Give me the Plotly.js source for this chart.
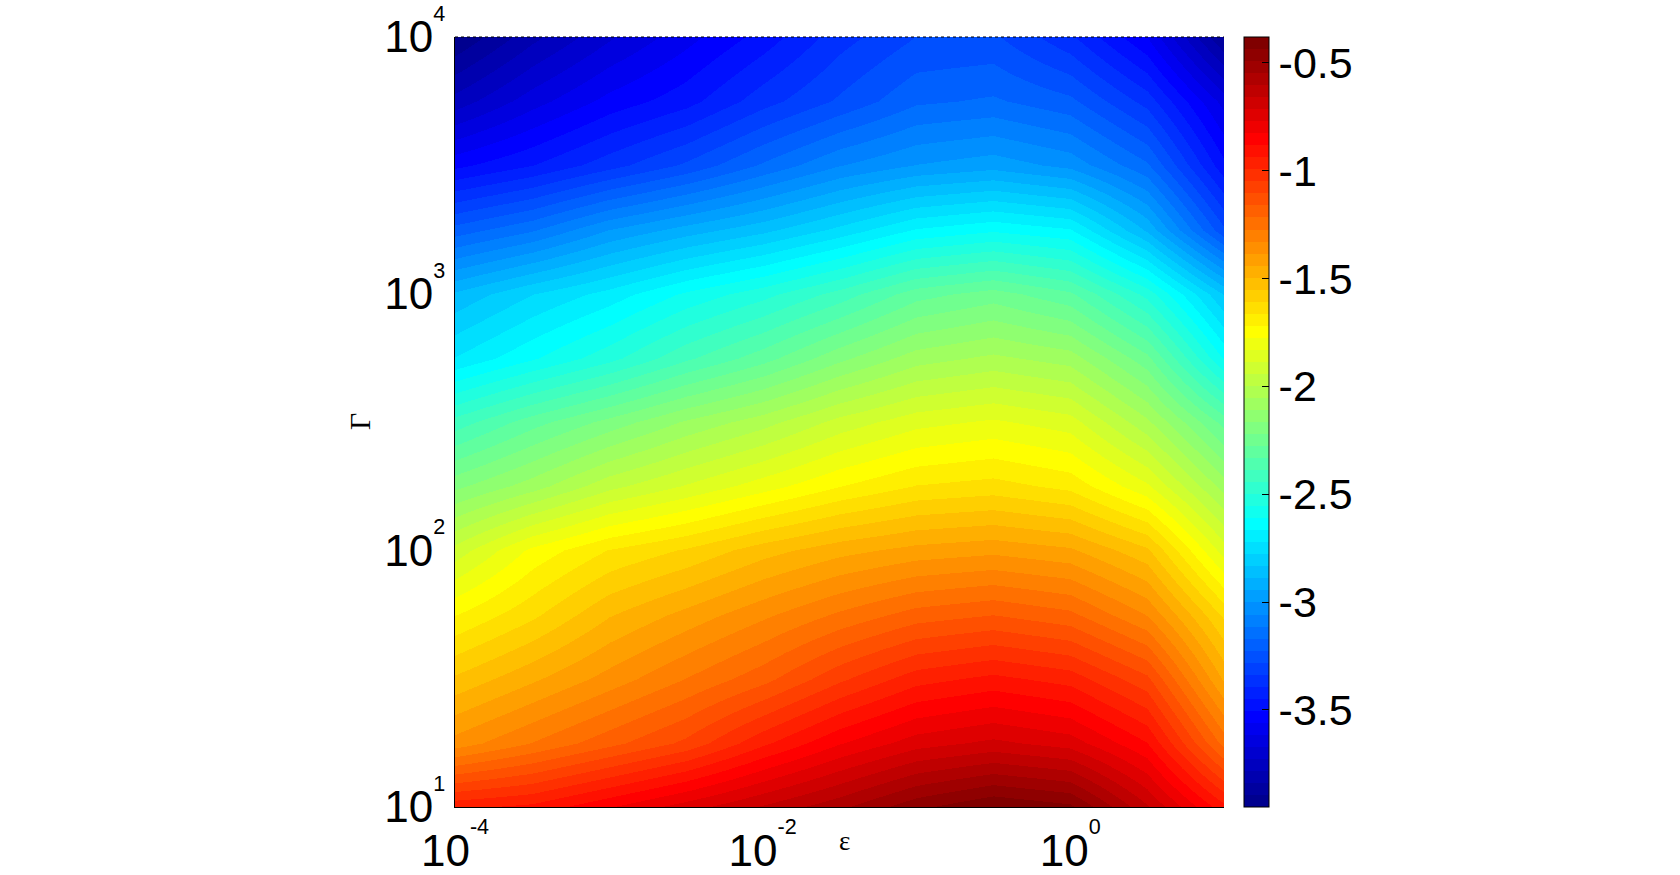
<!DOCTYPE html>
<html>
<head>
<meta charset="utf-8">
<script src="https://cdn.plot.ly/plotly-3.0.1.min.js"></script>
<style>
  body { margin: 0; background: #fff; }
  #map { width: 1680px; height: 875px; }
</style>
</head>
<body>
<div id="map"></div>
<script>
// log10 of epsilon (columns) and log10 of Gamma (rows)
var logEps = [-4, -3.5, -3, -2.5, -2, -1.5, -1, -0.5, 0, 0.5, 1];
var logGamma = [1, 1.25, 1.5, 1.75, 2, 2.25, 2.5, 2.75, 3, 3.25, 3.5, 3.75, 4];

// values, one row per Gamma
var zVals = [
  [-0.95, -0.92, -0.83, -0.74, -0.65, -0.56, -0.45, -0.38, -0.42, -0.65, -0.92],
  [-1.36, -1.27, -1.18, -1.09, -0.95, -0.83, -0.74, -0.70, -0.74, -0.88, -1.24],
  [-1.54, -1.45, -1.36, -1.27, -1.18, -1.06, -0.96, -0.92, -0.96, -1.09, -1.45],
  [-1.72, -1.62, -1.50, -1.42, -1.34, -1.26, -1.19, -1.16, -1.20, -1.33, -1.62],
  [-1.92, -1.76, -1.66, -1.60, -1.52, -1.46, -1.42, -1.40, -1.43, -1.54, -1.86],
  [-2.18, -2.08, -1.96, -1.88, -1.80, -1.72, -1.66, -1.64, -1.68, -1.82, -2.08],
  [-2.42, -2.30, -2.20, -2.10, -2.02, -1.92, -1.85, -1.82, -1.86, -2.04, -2.30],
  [-2.72, -2.62, -2.52, -2.40, -2.30, -2.18, -2.08, -2.04, -2.08, -2.26, -2.62],
  [-2.88, -2.78, -2.70, -2.60, -2.52, -2.42, -2.30, -2.25, -2.32, -2.52, -2.84],
  [-3.20, -3.12, -3.00, -2.92, -2.85, -2.76, -2.66, -2.62, -2.66, -2.90, -3.27],
  [-3.52, -3.45, -3.36, -3.27, -3.16, -3.06, -3.00, -2.97, -3.02, -3.16, -3.49],
  [-3.76, -3.64, -3.54, -3.47, -3.36, -3.27, -3.18, -3.16, -3.21, -3.36, -3.64],
  [-3.95, -3.80, -3.68, -3.58, -3.48, -3.36, -3.28, -3.27, -3.38, -3.56, -3.90]
];

var xTickVals = [-4, -2, 0];
var xTickText = ['-4', '-2', '0'];
var yTickVals = [1, 2, 3, 4];
var yTickText = ['1', '2', '3', '4'];
var cbTickVals = [-3.5, -3, -2.5, -2, -1.5, -1, -0.5];
var cbTickText = ['-3.5', '-3', '-2.5', '-2', '-1.5', '-1', '-0.5'];

// exponent set small and high like the matlab labels
function pow10(e) {
  return '10<sup><sup>' + e + '</sup></sup>';
}

// matlab jet(64), as flat bands
function jet64() {
  var u = [], i, j;
  for (i = 1; i <= 16; i++) u.push(i / 16);
  for (i = 0; i < 15; i++) u.push(1);
  for (i = 16; i >= 1; i--) u.push(i / 16);
  var J = [];
  for (i = 0; i < 64; i++) J.push([0, 0, 0]);
  for (j = 0; j < u.length; j++) {
    var g = 8 + j + 1, r = g + 16, b = g - 16;
    if (r <= 64) J[r - 1][0] = u[j];
    if (g <= 64) J[g - 1][1] = u[j];
    if (b >= 1) J[b - 1][2] = u[j];
  }
  var cs = [];
  for (i = 0; i < 64; i++) {
    var c = 'rgb(' + Math.round(J[i][0] * 255) + ',' + Math.round(J[i][1] * 255) + ',' + Math.round(J[i][2] * 255) + ')';
    cs.push([i / 64, c]);
    cs.push([(i + 1) / 64, c]);
  }
  return cs;
}

var minorY = [];
for (var k = 1; k < 4; k++) {
  for (var m = 2; m <= 9; m++) minorY.push(k + Math.log10(m));
}

var heat = {
  type: 'heatmap',
  x: logEps,
  y: logGamma,
  z: zVals,
  zsmooth: 'best',
  zmin: -3.95,
  zmax: -0.38,
  colorscale: jet64(),
  showscale: true,
  colorbar: {
    x: 1.026, xanchor: 'left', xpad: 0,
    y: 0.5, yanchor: 'middle', ypad: 0,
    len: 1, thickness: 25,
    outlinewidth: 1, outlinecolor: '#000',
    tickmode: 'array', tickvals: cbTickVals, ticktext: cbTickText,
    ticks: 'inside', ticklen: 7, tickcolor: '#000',
    tickfont: {family: 'Liberation Sans, Arial, sans-serif', size: 43, color: '#000'}
  }
};

var tickFont = {family: 'Liberation Sans, Arial, sans-serif', size: 44, color: '#000'};

var layout = {
  width: 1680,
  height: 875,
  margin: {l: 455, r: 456, t: 37, b: 68},
  paper_bgcolor: '#fff',
  plot_bgcolor: '#fff',
  showlegend: false,
  xaxis: {
    range: [-4, 1],
    tickmode: 'array',
    tickvals: xTickVals,
    ticktext: xTickText.map(pow10),
    ticks: '',
    ticklabelstandoff: 5,
    ticklabeloverflow: 'allow',
    showgrid: false, zeroline: false,
    showline: true, linecolor: '#000', linewidth: 1,
    tickfont: tickFont
  },
  yaxis: {
    range: [1, 4],
    tickmode: 'array',
    tickvals: yTickVals,
    ticktext: yTickText.map(pow10),
    ticks: '',
    ticklabeloverflow: 'allow',
    showgrid: false, zeroline: false,
    showline: true, linecolor: '#000', linewidth: 1,
    tickfont: tickFont
  },
  yaxis2: {
    overlaying: 'y', side: 'right', anchor: 'x',
    range: [1, 4],
    tickmode: 'array', tickvals: [2, 3],
    showticklabels: false,
    ticks: 'outside', ticklen: 3, tickcolor: '#000',
    minor: {tickvals: minorY, ticks: 'outside', ticklen: 2, tickcolor: '#000'},
    showgrid: false, zeroline: false, showline: false
  },
  shapes: [
    {type: 'line', xref: 'paper', yref: 'paper', x0: 0, x1: 1, y0: 1, y1: 1,
     line: {color: '#000', width: 1, dash: 'dot'}}
  ],
  annotations: [
    {text: 'ε', xref: 'paper', yref: 'paper', x: 0.506, y: -0.044,
     xanchor: 'center', yanchor: 'middle', showarrow: false,
     font: {family: 'Liberation Serif, Times New Roman, serif', size: 27, color: '#000'}},
    {text: 'Γ', xref: 'paper', yref: 'paper', x: -0.125, y: 0.501, textangle: -90,
     xanchor: 'center', yanchor: 'middle', showarrow: false,
     font: {family: 'Liberation Serif, Times New Roman, serif', size: 30, color: '#000'}}
  ]
};

Plotly.newPlot('map', [heat], layout, {displayModeBar: false, staticPlot: true});
</script>
</body>
</html>
